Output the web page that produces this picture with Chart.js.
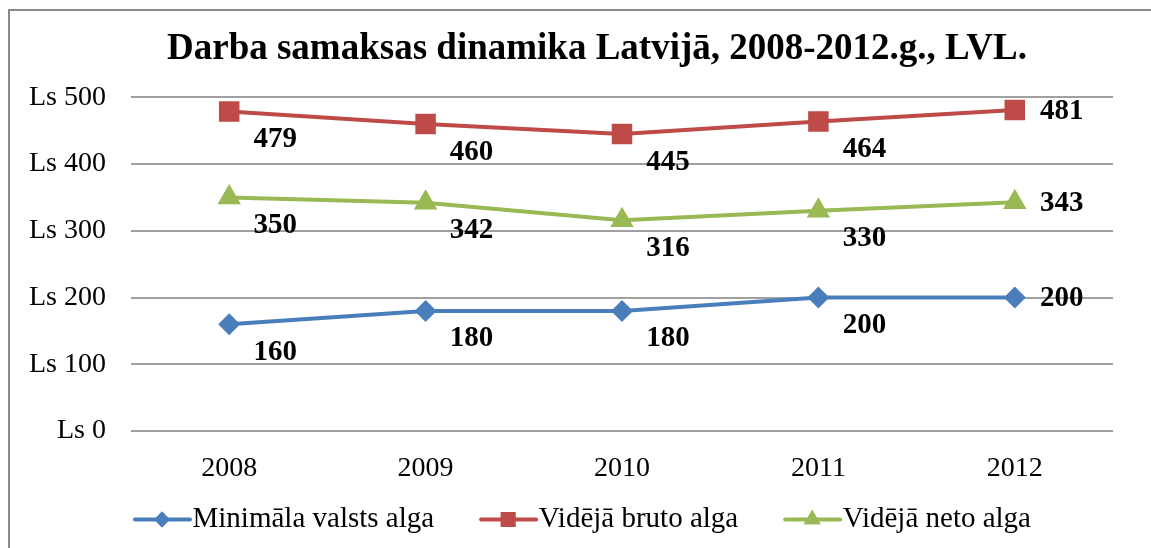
<!DOCTYPE html>
<html>
<head>
<meta charset="utf-8">
<script src="https://cdn.jsdelivr.net/npm/chart.js@4.4.1/dist/chart.umd.min.js"></script>
<style>
  html, body { margin: 0; padding: 0; background: #fff; }
  #wrap { position: relative; width: 1151px; height: 548px; overflow: hidden; }
  #frame { position: absolute; left: 8px; top: 9px; width: 1200px; height: 600px; border: 2px solid #8a8a8a; }
  #chart { position: absolute; left: 0; top: 0; }
</style>
</head>
<body>
<div id="wrap">
  <div id="frame"></div>
  <canvas id="chart" width="1151" height="548"></canvas>
</div>
<script>
const years = ['2008', '2009', '2010', '2011', '2012'];
const minAlga = [160, 180, 180, 200, 200];
const brutoAlga = [479, 460, 445, 464, 481];
const netoAlga = [350, 342, 316, 330, 343];
const yTicks = [0, 100, 200, 300, 400, 500];

const serif = '"Liberation Serif", "Times New Roman", serif';
const LEG_BOX = 80; // leģendas "kaste" - līnija zīmēta tās labajā galā

// virsraksts un leģenda oriģinālā ir nedaudz pa labi no centra
const shiftBlocks = {
    id: 'shiftBlocks',
    afterLayout(chart) {
        if (chart.titleBlock) chart.titleBlock.left = 81;
        if (chart.legend) {
            chart.legend.left += 8;
            chart.legend.right += 8;
        }
    }
};

// vērtību uzraksti pie punktiem (pēdējais pa labi, pārējie zem un pa labi)
const pointLabels = {
    id: 'pointLabels',
    afterDatasetsDraw(chart) {
        const ctx = chart.ctx;
        ctx.save();
        ctx.font = 'bold 29px ' + serif;
        ctx.fillStyle = '#000';
        ctx.textAlign = 'center';
        ctx.textBaseline = 'middle';
        chart.data.datasets.forEach((ds, i) => {
            const meta = chart.getDatasetMeta(i);
            meta.data.forEach((pt, j) => {
                const last = j === meta.data.length - 1;
                const x = pt.x + (last ? 47 : 46);
                const y = pt.y + (last ? 1 : 28);
                ctx.fillText(String(ds.data[j]), x, y);
            });
        });
        ctx.restore();
    }
};

// leģendas līnija ar marķieri
const legendMarkers = {
    id: 'legendMarkers',
    afterDraw(chart) {
        const lg = chart.legend;
        if (!lg || !lg.legendHitBoxes) return;
        const ctx = chart.ctx;
        lg.legendHitBoxes.forEach((box, i) => {
            const ds = chart.data.datasets[i];
            const cy = box.top + box.height / 2;
            const x0 = box.left + LEG_BOX - 43;
            ctx.save();
            ctx.strokeStyle = ds.borderColor;
            ctx.lineWidth = 4;
            ctx.lineCap = 'round';
            ctx.beginPath();
            ctx.moveTo(x0, cy);
            ctx.lineTo(x0 + 55, cy);
            ctx.stroke();
            ctx.fillStyle = ds.borderColor;
            Chart.helpers.drawPoint(ctx, {
                pointStyle: ds.pointStyle,
                radius: ds.pointRadius * 0.72,
                rotation: 0,
                borderWidth: 0
            }, x0 + 27, cy);
            ctx.fill();
            ctx.restore();
        });
    }
};

new Chart(document.getElementById('chart'), {
    type: 'line',
    data: {
        labels: years,
        datasets: [
            {
                label: 'Minimāla valsts alga',
                data: minAlga,
                borderColor: '#4a7ebb',
                backgroundColor: '#4a7ebb',
                pointStyle: 'rectRot',
                pointRadius: 11,
                borderWidth: 4
            },
            {
                label: 'Vidējā bruto alga',
                data: brutoAlga,
                borderColor: '#be4b48',
                backgroundColor: '#be4b48',
                pointStyle: 'rect',
                pointRadius: 14.5,
                borderWidth: 4
            },
            {
                label: 'Vidējā neto alga',
                data: netoAlga,
                borderColor: '#98b954',
                backgroundColor: '#98b954',
                pointStyle: 'triangle',
                pointRadius: 13.5,
                borderWidth: 4
            }
        ]
    },
    options: {
        responsive: false,
        animation: false,
        layout: {
            padding: { left: 0, right: 38, top: 0, bottom: 4 }
        },
        elements: {
            line: { tension: 0 },
            point: { pointBorderWidth: 0 }
        },
        scales: {
            x: {
                offset: true,
                grid: { display: false, drawTicks: false },
                border: { display: false },
                ticks: { color: '#000', font: { family: serif, size: 28 }, padding: 21 },
                afterFit: s => { s.height = 64; }
            },
            y: {
                min: 0,
                max: 500,
                afterBuildTicks: s => { s.ticks = yTicks.map(v => ({ value: v })); },
                afterFit: s => { s.width = 131; },
                grid: { color: '#a0a0a0', lineWidth: 2, drawTicks: false },
                border: { display: false },
                ticks: {
                    color: '#000',
                    padding: 25,
                    font: { family: serif, size: 28 },
                    callback: v => 'Ls ' + v
                }
            }
        },
        plugins: {
            title: {
                display: true,
                text: 'Darba samaksas dinamika Latvijā, 2008-2012.g., LVL.',
                color: '#000',
                font: { family: serif, size: 37, weight: 'bold' },
                padding: { top: 27, bottom: 26 }
            },
            legend: {
                position: 'bottom',
                labels: {
                    color: '#000',
                    font: { family: serif, size: 29 },
                    boxWidth: LEG_BOX,
                    boxHeight: 4,
                    padding: 10,
                    generateLabels: chart => Chart.defaults.plugins.legend.labels.generateLabels(chart)
                        .map(it => Object.assign(it, { fillStyle: 'rgba(0,0,0,0)', strokeStyle: 'rgba(0,0,0,0)', lineWidth: 0 }))
                }
            },
            tooltip: { enabled: false }
        }
    },
    plugins: [shiftBlocks, pointLabels, legendMarkers]
});
</script>
</body>
</html>
